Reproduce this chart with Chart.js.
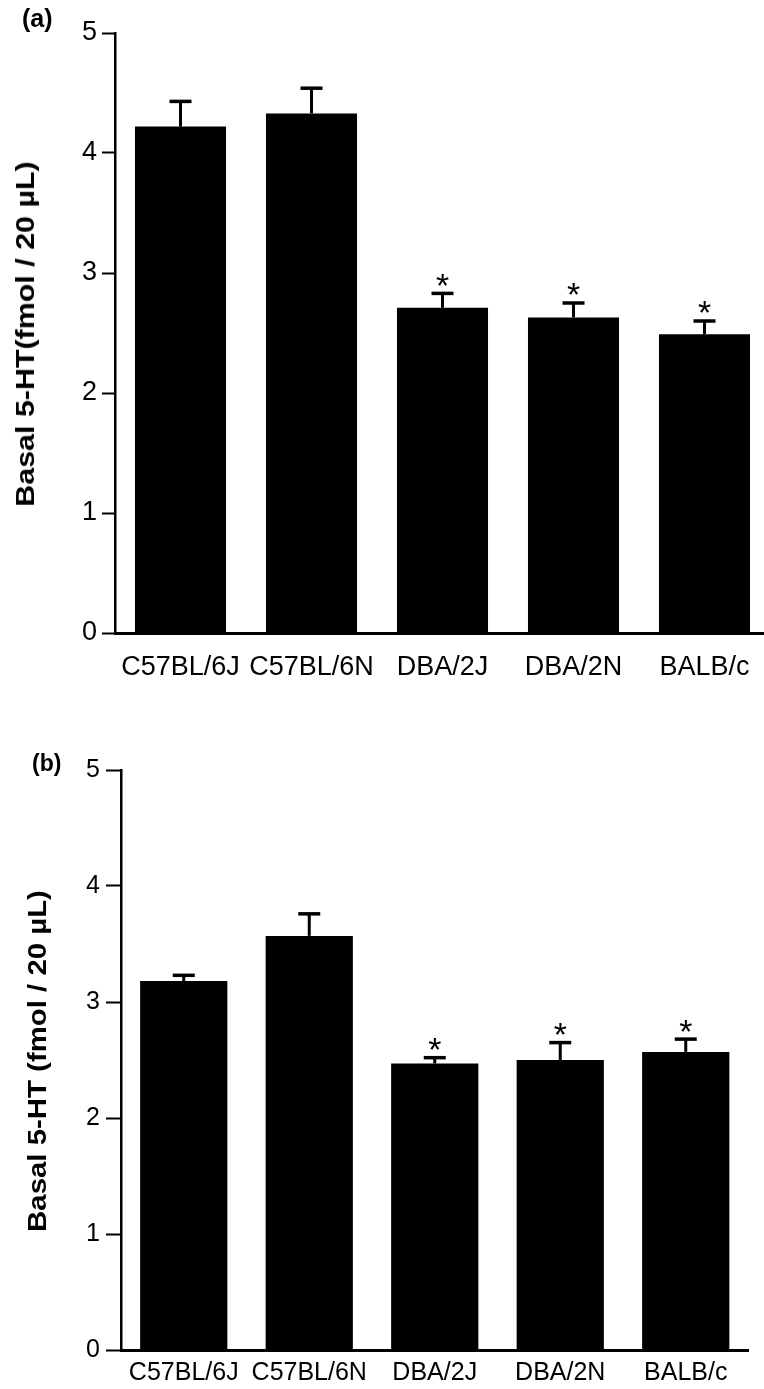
<!DOCTYPE html>
<html>
<head>
<meta charset="utf-8">
<title>Basal 5-HT by mouse strain</title>
<script src="https://cdn.jsdelivr.net/npm/chart.js@4.4.1/dist/chart.umd.min.js"></script>
<style>
  html, body { margin: 0; padding: 0; background: #fff; overflow: hidden; }
  body { position: relative; width: 764px; height: 1389px; font-family: "Liberation Sans", Arial, sans-serif; color: #000; }
  canvas { position: absolute; left: 0; }
  #chartA { top: 0; }
  #chartB { top: 690px; }
  .panel { position: absolute; font-weight: bold; line-height: 1; }
  .ytitle { position: absolute; font-weight: bold; line-height: 1; white-space: nowrap; }
  #titleA { left: 24.5px; top: 334px; font-size: 26px; transform: translate(-50%, -50%) rotate(-90deg) scaleX(1.17); }
  #titleB { left: 37px; top: 1061px; font-size: 26px; transform: translate(-50%, -50%) rotate(-90deg) scaleX(1.13); }
</style>
</head>
<body>
<canvas id="chartA" width="772" height="690"></canvas>
<canvas id="chartB" width="764" height="699"></canvas>
<div class="panel" style="left:22px;top:6px;font-size:25px;">(a)</div>
<div class="panel" style="left:32px;top:752px;font-size:23px;">(b)</div>
<div class="ytitle" id="titleA">Basal 5-HT(fmol / 20 µL)</div>
<div class="ytitle" id="titleB">Basal 5-HT (fmol / 20 µL)</div>
<script>
const strains = ["C57BL/6J", "C57BL/6N", "DBA/2J", "DBA/2N", "BALB/c"];
const yTicks = [0, 1, 2, 3, 4, 5];

// panel (a)
const meanA = [4.22, 4.33, 2.71, 2.63, 2.49];
const semA = [0.21, 0.21, 0.12, 0.12, 0.11];
const sigA = [false, false, true, true, true];

// panel (b)
const meanB = [3.18, 3.57, 2.47, 2.50, 2.57];
const semB = [0.05, 0.19, 0.05, 0.15, 0.11];
const sigB = [false, false, true, true, true];

const FONT = "'Liberation Sans', Arial, sans-serif";

// error bars (upper only) + significance stars
function errorBars(err, sig) {
  return {
    id: "errorBars",
    afterDatasetsDraw(chart) {
      const ctx = chart.ctx;
      const y = chart.scales.y;
      const values = chart.data.datasets[0].data;
      const starSize = 34;
      ctx.save();
      ctx.strokeStyle = "#000";
      ctx.fillStyle = "#000";
      chart.getDatasetMeta(0).data.forEach((bar, i) => {
        const top = y.getPixelForValue(values[i] + err[i]);
        ctx.lineWidth = 3;
        ctx.beginPath();
        ctx.moveTo(bar.x, bar.y);
        ctx.lineTo(bar.x, top);
        ctx.stroke();
        ctx.lineWidth = 3.5;
        ctx.beginPath();
        ctx.moveTo(bar.x - 11, top);
        ctx.lineTo(bar.x + 11, top);
        ctx.stroke();
        if (sig[i]) {
          ctx.font = starSize + "px " + FONT;
          ctx.textAlign = "center";
          ctx.textBaseline = "alphabetic";
          ctx.fillText("*", bar.x, top - 16 + 0.57 * starSize);
        }
      });
      ctx.restore();
    }
  };
}

function makeChart(id, values, err, sig, s) {
  return new Chart(document.getElementById(id), {
    type: "bar",
    data: {
      labels: strains,
      datasets: [{
        data: values,
        backgroundColor: "#000",
        borderWidth: 0,
        barPercentage: 0.695,
        categoryPercentage: 1
      }]
    },
    options: {
      responsive: false,
      animation: false,
      layout: { padding: { left: 0, top: s.top, right: s.right, bottom: 0 } },
      plugins: {
        legend: { display: false },
        tooltip: { enabled: false }
      },
      scales: {
        x: {
          offset: true,
          grid: { display: true, drawOnChartArea: false, drawTicks: false },
          border: { display: true, color: "#000", width: 3 },
          ticks: {
            color: "#000",
            font: { family: FONT, size: s.xFont },
            padding: s.xPad,
            autoSkip: false,
            maxRotation: 0
          },
          afterFit(scale) { scale.height = s.xHeight; }
        },
        y: {
          min: 0,
          max: 5,
          afterBuildTicks(scale) { scale.ticks = yTicks.map(v => ({ value: v })); },
          grid: { drawOnChartArea: false, drawTicks: true, tickLength: s.tick, tickWidth: 2, tickColor: "#000" },
          border: { display: true, color: "#000", width: 2.5 },
          ticks: {
            color: "#000",
            font: { family: FONT, size: s.yFont },
            padding: s.yPad
          },
          afterFit(scale) { scale.width = s.yWidth; }
        }
      }
    },
    plugins: [errorBars(err, sig)]
  });
}

makeChart("chartA", meanA, semA, sigA, {
  top: 33, right: 2, xHeight: 57, xFont: 27, xPad: 18,
  yWidth: 115, yFont: 27, yPad: 5, tick: 13
});

makeChart("chartB", meanB, semB, sigB, {
  top: 80, right: 15.5, xHeight: 39, xFont: 25, xPad: 8,
  yWidth: 121, yFont: 25, yPad: 6, tick: 15
});
</script>
</body>
</html>
